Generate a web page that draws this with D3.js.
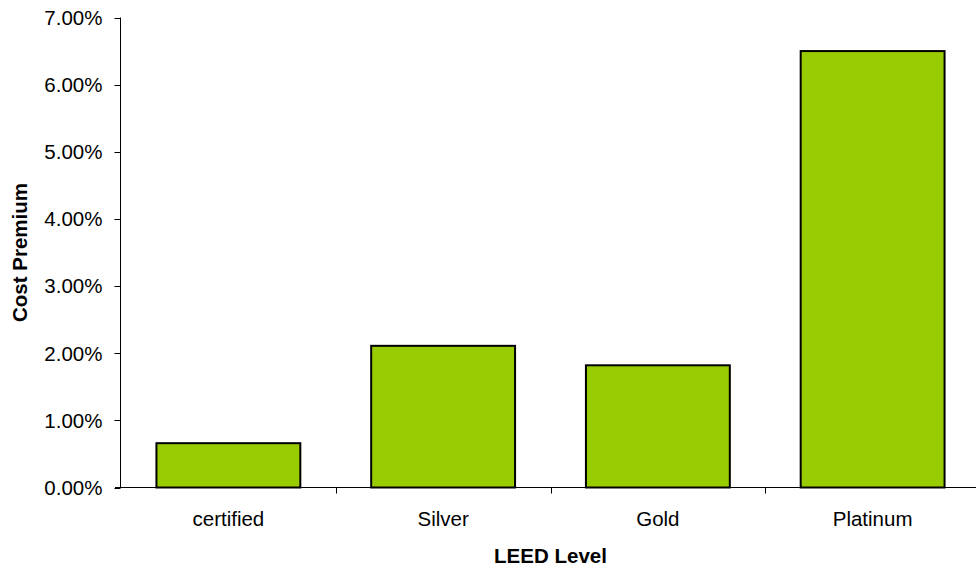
<!DOCTYPE html>
<html>
<head>
<meta charset="utf-8">
<script src="https://cdn.jsdelivr.net/npm/d3@7"></script>
<style>
  body { margin: 0; background: #fff; }
  svg { display: block; font-family: 'Liberation Sans', Arial, sans-serif; }
</style>
</head>
<body>
<svg id="chart" width="976" height="567"></svg>
<script>
const categories = ['certified', 'Silver', 'Gold', 'Platinum'];
const premiums = [0.0066, 0.0211, 0.0182, 0.065];
const yTicks = [0, 0.01, 0.02, 0.03, 0.04, 0.05, 0.06, 0.07];

const svg = d3.select('#chart');
const plotL = 121, plotR = 980, plotT = 17.5, plotB = 487.5;
const fs = 20.5;

const x = d3.scaleBand().domain(categories).range([plotL, plotR])
  .paddingInner(0.33).paddingOuter(0.165);
const xEdges = d3.scaleBand().domain(categories).range([plotL, plotR]);
const y = d3.scaleLinear().domain([0, 0.07]).range([plotB, plotT]);

// bars
svg.append('g').selectAll('rect')
  .data(premiums)
  .join('rect')
  .attr('x', (d, i) => x(categories[i]))
  .attr('y', d => y(d))
  .attr('width', x.bandwidth())
  .attr('height', d => y(0) - y(d))
  .attr('fill', '#99cc00')
  .attr('stroke', '#000')
  .attr('stroke-width', 2);

// y axis
const yAxis = svg.append('g').attr('transform', `translate(${plotL - 0.5},0)`);
yAxis.append('line').attr('y1', plotT).attr('y2', plotB).attr('stroke', '#000');
yAxis.selectAll('.tick').data(yTicks).join('line')
  .attr('x1', -6).attr('x2', 0)
  .attr('y1', d => Math.round(y(d)) + 0.5).attr('y2', d => Math.round(y(d)) + 0.5)
  .attr('stroke', '#000');
yAxis.selectAll('text').data(yTicks).join('text')
  .attr('x', -18).attr('y', d => y(d))
  .attr('dy', '0.36em')
  .attr('text-anchor', 'end')
  .attr('font-size', fs)
  .attr('fill', '#000')
  .text(d => d3.format('.2%')(d));

// x axis
const xAxis = svg.append('g');
xAxis.append('line').attr('x1', plotL - 6).attr('x2', plotR)
  .attr('y1', plotB).attr('y2', plotB).attr('stroke', '#000');
xAxis.selectAll('.tick').data(categories).join('line')
  .attr('x1', (d, i) => Math.round(plotL + xEdges.step() * (i + 1)) + 0.5)
  .attr('x2', (d, i) => Math.round(plotL + xEdges.step() * (i + 1)) + 0.5)
  .attr('y1', plotB).attr('y2', plotB + 6)
  .attr('stroke', '#000');
xAxis.selectAll('text').data(categories).join('text')
  .attr('x', d => xEdges(d) + xEdges.bandwidth() / 2)
  .attr('y', 525.5)
  .attr('text-anchor', 'middle')
  .attr('font-size', fs)
  .attr('fill', '#000')
  .text(d => d);

// axis titles
svg.append('text')
  .attr('x', 550.5).attr('y', 562.5)
  .attr('text-anchor', 'middle')
  .attr('font-size', fs).attr('font-weight', 'bold')
  .text('LEED Level');

svg.append('text')
  .attr('transform', `translate(26.5,${(plotT + plotB) / 2}) rotate(-90)`)
  .attr('text-anchor', 'middle')
  .attr('font-size', fs).attr('font-weight', 'bold')
  .text('Cost Premium');
</script>
</body>
</html>
